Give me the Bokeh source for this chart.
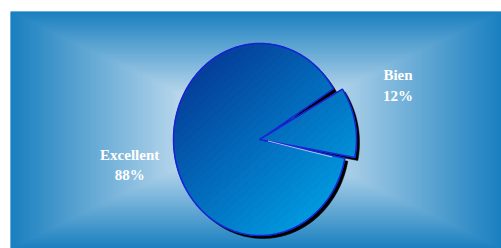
import numpy as np
from bokeh.plotting import figure
from bokeh.models import Range1d
from bokeh.core.properties import value
from bokeh.embed import file_html
from bokeh.resources import INLINE

# ---- data ----
categories = ["Excellent", "Bien"]
values = [88, 12]
pct_labels = [f"{v}%" for v in values]

# ---- layout (figure-pixel coordinates; y grows downward) ----
CX, CY = 259.5, 139.0          # pie centre
RX, RY = 86.5, 96.0            # pie radii (slightly oval)
BIEN_START = -11.3             # degrees, where the small slice starts
SLICE_R = 97.0                 # radius of the pulled-out slice
SLICE_INSET = 0.6              # degrees trimmed off each side of pulled slice
SHADOW = (3.0, 3.0)
LABEL_RADIUS = 1.52
LABEL_NUDGE = {"Excellent": (-1.0, -11.0), "Bien": (8.6, -38.0)}
LINE_GAP = 20.5

W, H = 501, 248
PL, PT = 10, 11
p = figure(width=W, height=H, output_backend="svg", toolbar_location=None,
           x_axis_type=None, y_axis_type=None,
           x_range=Range1d(PL, W), y_range=Range1d(H, PT),
           min_border_left=PL, min_border_top=PT, min_border_right=0, min_border_bottom=0)
p.grid.visible = False
p.outline_line_color = None
p.border_fill_color = "white"
EDGE = np.array([26, 128, 192], float)
LIGHT = np.array([186, 216, 236], float)
p.background_fill_color = "#1a80c0"

def hexc(c):
    c = np.clip(np.round(c), 0, 255).astype(int)
    return "#%02x%02x%02x" % tuple(c)

# ---- box gradient background (nested rectangles) ----
BX, BY, HW, HH = 255.5, 129.5, 245.5, 118.5
N = 80
ts = np.linspace(1.0, 0.3, N)
left, right, top, bottom, cols = [], [], [], [], []
for t in ts:
    f = (t - 0.3) / 0.7
    cols.append(hexc(LIGHT + f * (EDGE - LIGHT)))
    left.append(BX - t * HW); right.append(BX + t * HW)
    top.append(BY - t * HH); bottom.append(BY + t * HH)
p.quad(left=left, right=right, top=top, bottom=bottom, fill_color=cols, line_color=None)

# ---- pie geometry from values ----
total = float(sum(values))
spans = [v / total * 360.0 for v in values]
bien_start = BIEN_START
bien_end = bien_start + spans[1]
exc_start = bien_end
exc_end = exc_start + spans[0]

def ellipse_wedge(cx, cy, rx, ry, a0, a1, n=240):
    a = np.radians(np.linspace(a0, a1, n))
    xs = np.concatenate([[cx], cx + rx * np.cos(a)])
    ys = np.concatenate([[cy], cy - ry * np.sin(a)])
    return np.column_stack([xs, ys])

main_poly = ellipse_wedge(CX, CY, RX, RY, exc_start, exc_end)
slice_poly = ellipse_wedge(CX - 0.5, CY, SLICE_R, SLICE_R,
                           bien_start + SLICE_INSET, bien_end - SLICE_INSET, 80)

# gradient direction: top-left to bottom-right of the pie
P0 = np.array([CX - RX, CY - RY])
D = np.array([2 * RX, 2 * RY])
DD = D @ D

def proj(pt):
    return ((pt - P0) @ D) / DD

def clip_half(pts, val, sign):
    out = []
    n = len(pts)
    for i in range(n):
        P = pts[i]; Q = pts[(i + 1) % n]
        fp = sign * (proj(P) - val); fq = sign * (proj(Q) - val)
        if fp >= 0:
            out.append(P)
        if (fp >= 0) != (fq >= 0):
            t = fp / (fp - fq)
            out.append(P + t * (Q - P))
    return out

C0 = np.array([6, 44, 140], float)
C1 = np.array([0, 172, 236], float)
NB = 60
edges = np.linspace(-0.2, 1.2, NB + 1)

def bands(poly):
    xs, ys, cs = [], [], []
    pts = [np.array(q) for q in poly]
    for i in range(NB):
        b = clip_half(pts, edges[i], 1)
        b = clip_half(b, edges[i + 1], -1) if b else b
        if len(b) >= 3:
            arr = np.array(b)
            xs.append(list(arr[:, 0])); ys.append(list(arr[:, 1]))
            tm = np.clip((edges[i] + edges[i + 1]) / 2, 0, 1)
            cs.append(hexc(C0 + tm * (C1 - C0)))
    return xs, ys, cs

# shadows
sx, sy = SHADOW
p.patch(main_poly[:, 0] + sx, main_poly[:, 1] + sy, fill_color="black", line_color="black", line_width=0.5)
p.patch(slice_poly[:, 0] + sx, slice_poly[:, 1] + sy, fill_color="black", line_color="black", line_width=0.5)

for poly in (main_poly, slice_poly):
    xs, ys, cs = bands(poly)
    p.patches(xs, ys, fill_color=cs, line_color=cs, line_width=1.0)
    p.patch(poly[:, 0], poly[:, 1], fill_color=None, line_color="#1a22d6", line_width=1.5)

# light bevel on the main pie's lower cut edge
a = np.radians(exc_end)
p.line([CX + 8, CX + RX * np.cos(a) * 0.85], [CY + 1.5, CY - RY * np.sin(a) * 0.85 + 1.5],
       line_color="#cfe3f5", line_width=1, line_alpha=0.8)

# ---- labels ----
mids = [(exc_start + exc_end) / 2, (bien_start + bien_end) / 2]
lx, ly1, ly2, t1, t2 = [], [], [], [], []
for cat, pl, m in zip(categories, pct_labels, mids):
    r = np.radians(m)
    nx, ny = LABEL_NUDGE[cat]
    x = CX + LABEL_RADIUS * RX * np.cos(r) + nx
    y = CY - LABEL_RADIUS * RY * np.sin(r) + ny
    lx.append(x); ly1.append(y); ly2.append(y + LINE_GAP)
    t1.append(cat); t2.append(pl)

for ys_, txt in ((ly1, t1), (ly2, t2)):
    p.text(x=lx, y=ys_, text=txt, text_color="white",
           text_font=value("Liberation Serif"), text_font_style="bold",
           text_font_size="15px", text_align="center", text_baseline="alphabetic")

open("out.html", "w").write(file_html(p, INLINE))
